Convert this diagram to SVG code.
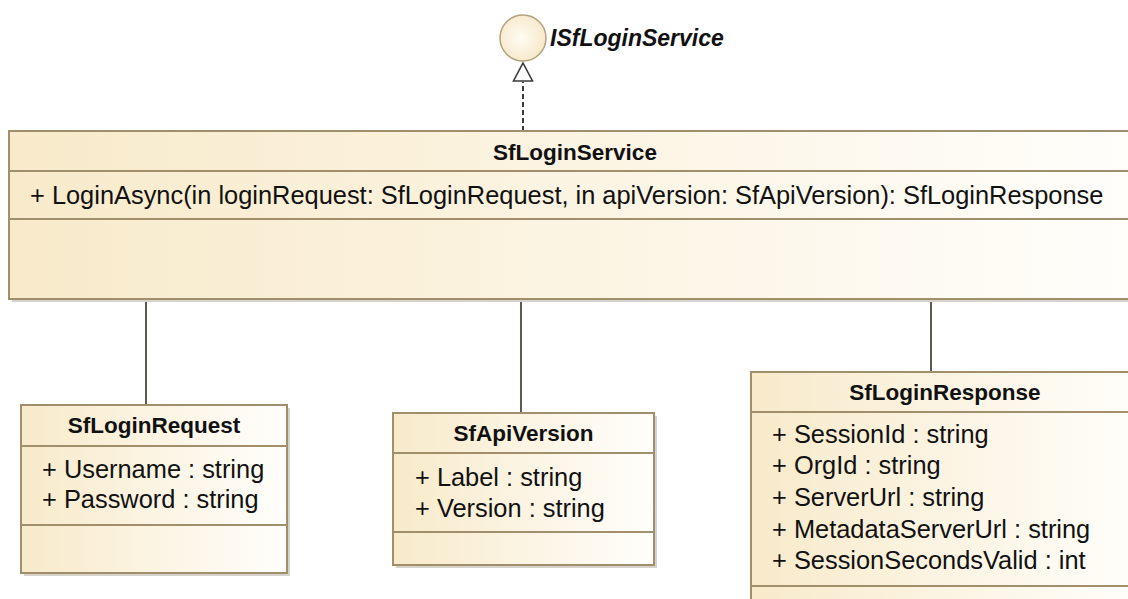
<svg xmlns="http://www.w3.org/2000/svg" width="1128" height="599" viewBox="0 0 1128 599">
  <style>
    .box { stroke: #a18f6b; stroke-width: 2; fill: url(#cream); }
    .shadow { fill: #d6d3cc; }
    .sep { stroke: #a18f6b; stroke-width: 2; }
    .title { font-family: "Liberation Sans", Arial, sans-serif; font-weight: bold; font-size: 22.5px; fill: #111; text-anchor: middle; }
    .member { font-family: "Liberation Sans", Arial, sans-serif; font-size: 25.4px; fill: #111; }
    .iface { font-family: "Liberation Sans", Arial, sans-serif; font-weight: bold; font-style: italic; font-size: 23px; fill: #111; }
    .assoc { stroke: #5f5a50; stroke-width: 2; fill: none; }
    .realize { stroke: #3a3a3a; stroke-width: 2; stroke-dasharray: 5 3; fill: none; }
  </style>
  <defs>
    <linearGradient id="cream" x1="0" y1="0" x2="1" y2="0">
      <stop offset="0" stop-color="#f8eaca"/>
      <stop offset="1" stop-color="#fffefb"/>
    </linearGradient>
    <radialGradient id="ball" cx="0.45" cy="0.5" r="0.6">
      <stop offset="0" stop-color="#fffcf4"/>
      <stop offset="1" stop-color="#f6e6c4"/>
    </radialGradient>
  </defs>

  <rect width="1128" height="599" fill="#fff"/>

  <!-- connectors -->
  <g id="connectors">
    <line class="realize" x1="523" y1="131" x2="523" y2="82"/>
    <path d="M523,63 L532.5,81 L513.5,81 Z" fill="#fff" stroke="#3a3a3a" stroke-width="1.6"/>
    <line class="assoc" x1="146" y1="299" x2="146" y2="405"/>
    <line class="assoc" x1="521" y1="299" x2="521" y2="413"/>
    <line class="assoc" x1="931" y1="299" x2="931" y2="372"/>
  </g>

  <!-- interface lollipop -->
  <g id="ISfLoginService">
    <circle cx="523" cy="38" r="23" fill="url(#ball)" stroke="#b3a27f" stroke-width="1.5"/>
    <text class="iface" x="550" y="46">ISfLoginService</text>
  </g>

  <!-- service class -->
  <g id="SfLoginService">
    <rect class="shadow" x="12" y="134" width="1129" height="168"/>
    <rect class="box" x="9" y="131" width="1129" height="168"/>
    <line class="sep" x1="9" y1="171" x2="1138" y2="171"/>
    <line class="sep" x1="9" y1="219" x2="1138" y2="219"/>
    <text class="title" x="575" y="160">SfLoginService</text>
    <text class="member" x="30" y="204">+ LoginAsync(in loginRequest: SfLoginRequest, in apiVersion: SfApiVersion): SfLoginResponse</text>
  </g>

  <!-- request class -->
  <g id="SfLoginRequest">
    <rect class="shadow" x="24" y="408" width="266" height="168"/>
    <rect class="box" x="21" y="405" width="266" height="168"/>
    <line class="sep" x1="21" y1="446" x2="287" y2="446"/>
    <line class="sep" x1="21" y1="525" x2="287" y2="525"/>
    <text class="title" x="154" y="433">SfLoginRequest</text>
    <text class="member" x="42" y="478">+ Username : string</text>
    <text class="member" x="42" y="508">+ Password : string</text>
  </g>

  <!-- api version class -->
  <g id="SfApiVersion">
    <rect class="shadow" x="396" y="416" width="261" height="152"/>
    <rect class="box" x="393" y="413" width="261" height="152"/>
    <line class="sep" x1="393" y1="453" x2="654" y2="453"/>
    <line class="sep" x1="393" y1="532" x2="654" y2="532"/>
    <text class="title" x="523.5" y="441">SfApiVersion</text>
    <text class="member" x="415" y="486">+ Label : string</text>
    <text class="member" x="415" y="517">+ Version : string</text>
  </g>

  <!-- response class -->
  <g id="SfLoginResponse">
    <rect class="box" x="751" y="372" width="388" height="240"/>
    <line class="sep" x1="751" y1="412" x2="1139" y2="412"/>
    <line class="sep" x1="751" y1="586" x2="1139" y2="586"/>
    <text class="title" x="945" y="400">SfLoginResponse</text>
    <text class="member" x="772" y="443">+ SessionId : string</text>
    <text class="member" x="772" y="474">+ OrgId : string</text>
    <text class="member" x="772" y="506">+ ServerUrl : string</text>
    <text class="member" x="772" y="538">+ MetadataServerUrl : string</text>
    <text class="member" x="772" y="569">+ SessionSecondsValid : int</text>
  </g>
</svg>
